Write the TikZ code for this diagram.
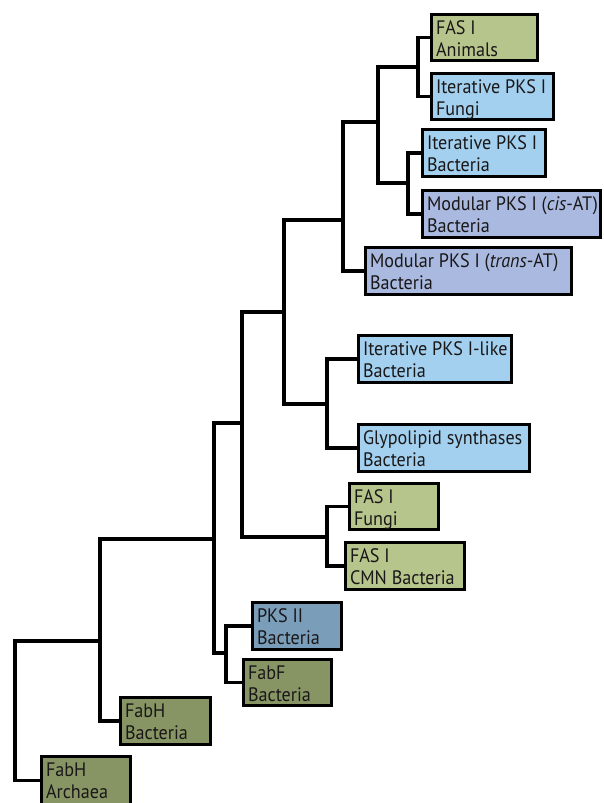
\documentclass[tikz,border=0pt]{standalone}
\usepackage{fontspec}
\setmainfont{PT Sans}[FakeStretch=0.93]
\definecolor{fasgreen}{HTML}{B6C58B}
\definecolor{pkslight}{HTML}{A3D0EF}
\definecolor{pkslav}{HTML}{A9B9DF}
\definecolor{pkssteel}{HTML}{7A9EBA}
\definecolor{fabolive}{HTML}{879564}
\definecolor{inktext}{HTML}{1A1718}
% #1 content width, #2 box height, #3 first line, #4 second line
\newcommand\twoline[4]{\vbox to #2{\offinterlineskip\hsize=#1\kern19.5pt
  \hbox to #1{\smash{#3}\hss}\kern22.5pt\hbox to #1{\smash{#4}\hss}\vfill}}
\tikzset{
  taxbox/.style={draw=black, line width=3.2pt, rectangle, inner xsep=4.5pt, inner ysep=0pt,
    font={\fontsize{19.5}{22.5}\selectfont}, text=inktext},
  treeline/.style={draw=black, line width=3.2pt, line join=miter, line cap=rect}
}
\begin{document}
\begin{tikzpicture}[x=1pt,y=-1pt]
\useasboundingbox (0,0) rectangle (603,803);
% boxes
\node[taxbox, fill=fasgreen, minimum width=106pt] (A) at (484.5,37.5) {\twoline{97pt}{46pt}{FAS I}{Animals}};
\node[taxbox, fill=pkslight, minimum width=122pt] (B) at (492.5,96.5) {\twoline{113pt}{46pt}{Iterative PKS I}{Fungi}};
\node[taxbox, fill=pkslight, minimum width=123pt] (C) at (484,153) {\twoline{114pt}{47pt}{Iterative PKS I}{Bacteria}};
\node[taxbox, fill=pkslav, minimum width=178pt] (D) at (511.5,214) {\twoline{169pt}{47pt}{Modular PKS I (\textit{cis}-AT)}{Bacteria}};
\node[taxbox, fill=pkslav, minimum width=206pt] (E) at (468.5,271) {\twoline{197pt}{47pt}{Modular PKS I (\textit{trans}-AT)}{Bacteria}};
\node[taxbox, fill=pkslight, minimum width=153pt] (F) at (435,359) {\twoline{144pt}{47pt}{Iterative PKS I-like}{Bacteria}};
\node[taxbox, fill=pkslight, minimum width=171pt] (G) at (444,448) {\twoline{162pt}{47pt}{Glypolipid synthases}{Bacteria}};
\node[taxbox, fill=fasgreen, minimum width=89pt] (H) at (394,506.5) {\twoline{80pt}{46pt}{FAS I}{Fungi}};
\node[taxbox, fill=fasgreen, minimum width=119pt] (I) at (405,566) {\twoline{110pt}{47pt}{FAS I}{CMN Bacteria}};
\node[taxbox, fill=pkssteel, minimum width=89pt] (J) at (297,626) {\twoline{80pt}{47pt}{PKS II}{Bacteria}};
\node[taxbox, fill=fabolive, minimum width=88pt] (K) at (287.5,682.5) {\twoline{79pt}{46pt}{FabF}{Bacteria}};
\node[taxbox, fill=fabolive, minimum width=90pt] (L) at (165.5,721) {\twoline{81pt}{47pt}{FabH}{Bacteria}};
\node[taxbox, fill=fabolive, minimum width=89pt] (M) at (86,780.5) {\twoline{80pt}{48pt}{FabH}{Archaea}};
% internal branch points
\coordinate (n1) at (418,67);
\coordinate (n2) at (408,183);
\coordinate (n3) at (378,122);
\coordinate (n4) at (343,220);
\coordinate (n5) at (327,404);
\coordinate (n6) at (284,312);
\coordinate (n7) at (327,537);
\coordinate (n8) at (242,423);
\coordinate (n9) at (226,653);
\coordinate (n10) at (214,539);
\coordinate (n11) at (100,641);
\coordinate (n12) at (15,710);
% tree
\draw[treeline] (A.west) -| (n1) |- (B.west);
\draw[treeline] (C.west) -| (n2) |- (D.west);
\draw[treeline] (n1) -| (n3) |- (n2);
\draw[treeline] (n3) -| (n4) |- (E.west);
\draw[treeline] (F.west) -| (n5) |- (G.west);
\draw[treeline] (n4) -| (n6) |- (n5);
\draw[treeline] (H.west) -| (n7) |- (I.west);
\draw[treeline] (n6) -| (n8) |- (n7);
\draw[treeline] (J.west) -| (n9) |- (K.west);
\draw[treeline] (n8) -| (n10) |- (n9);
\draw[treeline] (n10) -| (n11) |- (L.west);
\draw[treeline] (n11) -| (n12) |- (M.west);
\end{tikzpicture}
\end{document}
